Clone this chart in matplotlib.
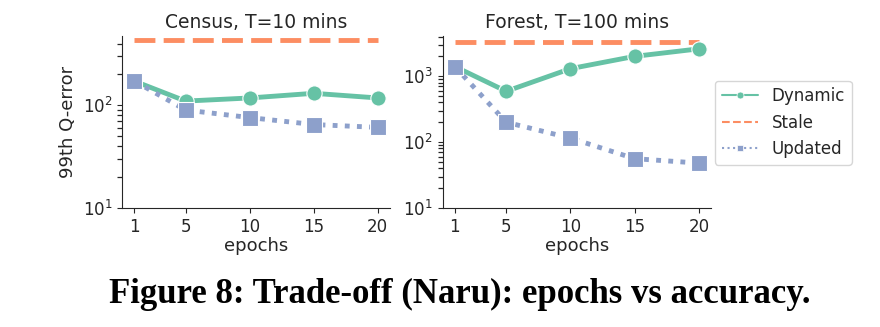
import matplotlib
matplotlib.use("Agg")
import matplotlib.pyplot as plt
from matplotlib.lines import Line2D
from matplotlib.ticker import LogLocator, NullFormatter
import seaborn as sns

sns.set_style("ticks")
plt.rcParams['font.family'] = ['DejaVu Sans']

epochs = [1, 5, 10, 15, 20]

# Census, T=10 mins
census_dynamic = [172, 110, 118, 131, 118]
census_updated = [172, 90, 76, 65, 61]
census_stale = 430

# Forest, T=100 mins
forest_dynamic = [1400, 590, 1300, 2000, 2600]
forest_updated = [1400, 200, 115, 56, 48]
forest_stale = 3300

titles = ["Census, T=10 mins", "Forest, T=100 mins"]

green, orange, blue = sns.color_palette("Set2")[:3]

fig = plt.figure(figsize=(8.8, 3.27), dpi=100)
ax1 = fig.add_axes([0.139, 0.364, 0.304, 0.526])
ax2 = fig.add_axes([0.503, 0.364, 0.305, 0.526])

panels = [
    (ax1, census_dynamic, census_updated, census_stale),
    (ax2, forest_dynamic, forest_updated, forest_stale),
]

for (ax, dyn, upd, stale), title in zip(panels, titles):
    ax.plot(epochs, [stale] * len(epochs), color=orange, lw=3.5,
            ls=(0, (4.3, 1.7)))
    ax.plot(epochs, dyn, color=green, lw=3.5, marker="o", ms=11,
            mec="white", mew=0.8)
    ax.plot(epochs, upd, color=blue, lw=3.5, ls=(0, (1, 1.5)),
            marker="s", ms=11, mec="white", mew=0.8)
    ax.set_yscale("log")
    ax.set_ylim(bottom=10)
    ax.yaxis.set_minor_locator(LogLocator(base=10, subs=range(2, 10), numticks=20))
    ax.yaxis.set_minor_formatter(NullFormatter())
    ax.set_xticks(epochs)
    ax.set_xlabel("epochs", fontsize=13, labelpad=1)
    ax.set_title(title, fontsize=13.5, pad=6)
    ax.tick_params(labelsize=12, colors="#262626")
    ax.tick_params(axis="y", which="minor", left=True, length=3.5,
                   width=0.9, color="#262626")
    sns.despine(ax=ax)

ax1.set_ylabel("99th Q-error", fontsize=13)

handles = [
    Line2D([], [], color=green, lw=1.5, marker="o", ms=5, mec="white", mew=0.5),
    Line2D([], [], color=orange, lw=1.5, ls="--"),
    Line2D([], [], color=blue, lw=1.5, ls=":", marker="s", ms=5, mec="white", mew=0.5),
]
fig.legend(handles, ["Dynamic", "Stale", "Updated"], loc="center left",
           bbox_to_anchor=(0.803, 0.625), fontsize=12, frameon=True,
           handlelength=2.2)

fig.text(0.522, 0.10, "Figure 8: Trade-off (Naru): epochs vs accuracy.",
         ha="center", va="center", fontsize=25, fontweight="bold",
         family="Liberation Serif", color="black")

fig.savefig("out.png", dpi=100)
